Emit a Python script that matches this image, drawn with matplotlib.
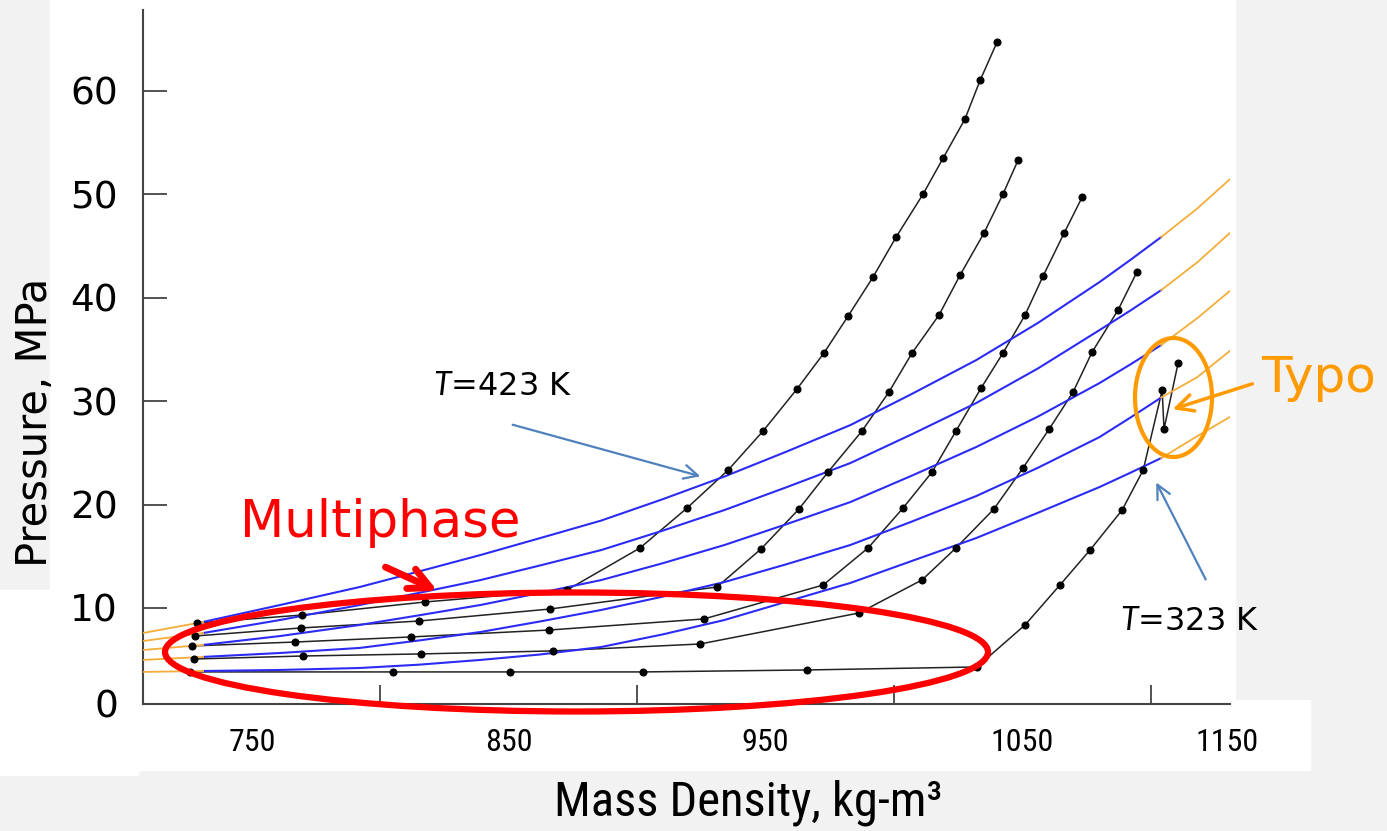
import matplotlib
matplotlib.use('Agg')
import matplotlib.pyplot as plt
from matplotlib import font_manager as fm
from matplotlib.patches import Ellipse, Rectangle

plt.rcParams['mathtext.fontset'] = 'custom'
plt.rcParams['mathtext.rm'] = 'Lato'
plt.rcParams['mathtext.it'] = 'Lato:italic'

W, H = 1387, 831

# black curves: density (kg/m3) and pressure (MPa)
rho_1 = [728.6, 769.5, 817.4, 872.7, 901.1, 919.4, 935.4, 949.0, 962.2, 972.7,
         982.1, 991.8, 1000.8, 1011.3, 1019.1, 1027.6, 1033.5, 1040.1]
p_1 = [8.55, 9.32, 10.58, 11.74, 15.80, 19.66, 23.33, 27.10, 31.16, 34.64,
       38.21, 41.98, 45.85, 50.0, 53.48, 57.25, 61.0, 64.69]

rho_2 = [727.8, 769.1, 815.0, 866.0, 931.1, 948.2, 963.0, 974.3, 987.5, 998.0,
         1007.0, 1017.5, 1025.7, 1035.0, 1042.4, 1048.3]
p_2 = [7.29, 8.07, 8.74, 9.90, 12.03, 15.70, 19.57, 23.14, 27.10, 30.87,
       34.64, 38.31, 42.17, 46.23, 50.0, 53.29]

rho_3 = [726.6, 766.7, 811.9, 865.7, 926.0, 972.4, 989.9, 1003.5, 1014.8, 1024.1,
         1033.9, 1042.4, 1051.0, 1058.0, 1066.2, 1073.2]
p_3 = [6.33, 6.71, 7.20, 7.87, 8.94, 12.22, 15.80, 19.66, 23.14, 27.1,
       31.26, 34.64, 38.31, 42.07, 46.23, 49.69]

rho_4 = [727.4, 769.9, 815.8, 867.2, 924.5, 986.4, 1010.9, 1024.1, 1038.9, 1050.2,
         1060.4, 1069.7, 1077.1, 1087.2, 1094.6]
p_4 = [5.07, 5.36, 5.56, 5.85, 6.52, 9.52, 12.71, 15.80, 19.57, 23.53,
       27.29, 30.87, 34.73, 38.79, 42.5]

rho_5 = [725.9, 804.9, 850.5, 902.3, 966.1, 1032.3, 1051.0, 1064.6, 1076.3, 1088.8,
         1097.0, 1104.4, 1105.1, 1110.6]
p_5 = [3.82, 3.82, 3.82, 3.82, 4.01, 4.30, 8.36, 12.22, 15.60, 19.47,
       23.33, 31.06, 27.29, 33.67]

black_curves = [(rho_1, p_1), (rho_2, p_2), (rho_3, p_3), (rho_4, p_4), (rho_5, p_5)]

# blue model isotherms
rho_model = [731, 761, 792, 815, 839, 862, 886, 910, 934, 958, 983, 1007, 1032,
             1056, 1080, 1092, 1104]
p_423 = [8.65, 10.29, 12.03, 13.53, 15.12, 16.74, 18.45, 20.52, 22.71, 25.1, 27.68,
         30.7, 33.96, 37.55, 41.50, 43.64, 45.85]
p_398 = [7.58, 8.84, 10.29, 11.46, 12.70, 14.1, 15.60, 17.48, 19.47, 21.66, 24.01,
         26.8, 29.81, 33.15, 36.86, 38.75, 40.72]
p_373 = [6.43, 7.29, 8.36, 9.29, 10.29, 11.45, 12.70, 14.33, 16.09, 18.09, 20.24,
         22.8, 25.56, 28.5, 31.74, 33.54, 35.41]
p_348 = [5.27, 5.65, 6.14, 6.86, 7.68, 8.69, 9.81, 11.1, 12.51, 14.22, 16.09,
         18.36, 20.82, 23.55, 26.52, 28.4, 30.34]
p_323 = [3.91, 4.01, 4.20, 4.52, 4.98, 5.5, 6.23, 7.45, 8.84, 10.6, 12.42,
         14.55, 16.76, 19.2, 21.69, 23.07, 24.49]
blue_lines = [p_423, p_398, p_373, p_348, p_323]

# orange extensions outside the fitted range
rho_lo = [707.6, 731]
p_lo = [[7.58, 8.65], [6.81, 7.58], [5.94, 6.43], [4.98, 5.27], [3.82, 3.91]]
rho_hi = [1104, 1118, 1131]
p_hi = [[45.85, 48.6, 51.5], [40.72, 43.4, 46.3], [35.41, 38.0, 40.7],
        [30.34, 32.3, 34.9], [24.49, 26.6, 28.5]]

x_minor = [750, 800, 850, 900, 950, 1000, 1050, 1100]
x_label_pos = [750, 850, 950, 1050, 1129.7]
x_labels = ['750', '850', '950', '1050', '1150']
y_ticks = [0.72, 10, 20, 30, 40, 50, 60]
y_labels = ['0', '10', '20', '30', '40', '50', '60']

# a narrow face for the x labels, if one is installed
names = {f.name for f in fm.fontManager.ttflist}
narrow = dict(family='DejaVu Sans')
for n in ['Liberation Sans Narrow', 'Roboto Condensed', 'Open Sans Condensed']:
    if n in names:
        narrow = dict(family=n)
        break
else:
    if any(f.name == 'DejaVu Sans' and f.stretch == 'condensed' for f in fm.fontManager.ttflist):
        narrow = dict(family='DejaVu Sans', stretch='condensed')
    else:
        narrow = dict(family='Liberation Sans')


def fxy(px, py):
    return (px / W, 1 - py / H)


fig = plt.figure(figsize=(W / 100, H / 100), dpi=100, facecolor='#f2f2f2')
for (x0, y0, x1, y1) in [(50, 0, 1235, 705), (0, 590, 138, 775), (50, 700, 1310, 770)]:
    fig.add_artist(Rectangle(fxy(x0, y1), (x1 - x0) / W, (y1 - y0) / H,
                             transform=fig.transFigure, color='white', zorder=0))

ax = fig.add_axes([143 / W, 1 - 704 / H, (1230 - 143) / W, (704 - 10) / H])
ax.set_xlim(707.6, 1130.8)
ax.set_ylim(0.72, 67.8)

for rho, p in black_curves:
    ax.plot(rho, p, color='#222222', lw=1.1, zorder=2)
for p in blue_lines:
    ax.plot(rho_model, p, color='#2b2bf5', lw=1.5, zorder=3)
for p in p_lo:
    ax.plot(rho_lo, p, color='#f5ad3a', lw=1.3, zorder=3)
for p in p_hi:
    ax.plot(rho_hi, p, color='#f5ad3a', lw=1.3, zorder=3)
for rho, p in black_curves:
    ax.plot(rho, p, ls='none', marker='o', ms=4.8, color='black', zorder=4)

for s in ['top', 'right']:
    ax.spines[s].set_visible(False)
for s in ['left', 'bottom']:
    ax.spines[s].set_color('#444444')
    ax.spines[s].set_linewidth(1.5)

ax.set_xticks(x_label_pos)
ax.set_xticklabels(x_labels, fontsize=23, **narrow)
ax.set_xticks(x_minor, minor=True)
ax.tick_params(axis='x', which='major', length=0, pad=17)
ax.tick_params(axis='x', which='minor', direction='in', length=14, width=1.3, color='#444444')
ax.set_yticks(y_ticks)
ax.set_yticklabels(y_labels, fontsize=27)
ax.tick_params(axis='y', direction='in', length=17, width=1.3, color='#444444', pad=18)

fig.text(*fxy(35, 422), 'Pressure, MPa', rotation=90, fontsize=30, ha='center', va='center')
fig.text(*fxy(748, 803), 'Mass Density, kg-m\u00b3', fontsize=35, ha='center', va='center',
         **narrow)

# annotations
fig.text(*fxy(503, 387), r'$\mathit{T}$=423 K', fontsize=23, ha='center', va='center')
fig.text(*fxy(1190, 622), r'$\mathit{T}$=323 K', fontsize=23, ha='center', va='center')
ax.annotate('', xy=fxy(703, 477), xytext=fxy(510, 424), xycoords='figure fraction',
            arrowprops=dict(arrowstyle='->', color='#4f81bd', lw=1.6, mutation_scale=25))
ax.annotate('', xy=fxy(1155, 480), xytext=fxy(1207, 582), xycoords='figure fraction',
            arrowprops=dict(arrowstyle='->', color='#4f81bd', lw=1.6, mutation_scale=25))

fig.text(*fxy(380, 523), 'Multiphase', color='red', fontsize=37, ha='center', va='center')
ax.annotate('', xy=fxy(440, 592), xytext=fxy(383, 566), xycoords='figure fraction',
            arrowprops=dict(arrowstyle='->', color='red', lw=5, mutation_scale=38))
fig.add_artist(Ellipse(fxy(576.5, 652), 823 / W, 119 / H, transform=fig.transFigure,
                       fill=False, edgecolor='red', lw=4.5, zorder=5))

fig.text(*fxy(1319, 378), 'Typo', color='#ff9a00', fontsize=36, ha='center', va='center')
ax.annotate('', xy=fxy(1170, 410), xytext=fxy(1255, 383), xycoords='figure fraction',
            arrowprops=dict(arrowstyle='->', color='#ff9a00', lw=2.5, mutation_scale=30))
fig.add_artist(Ellipse(fxy(1173.5, 397.5), 77 / W, 119 / H, transform=fig.transFigure,
                       fill=False, edgecolor='#ff9a00', lw=3, zorder=5))

fig.savefig('out.png', dpi=100, facecolor=fig.get_facecolor())
